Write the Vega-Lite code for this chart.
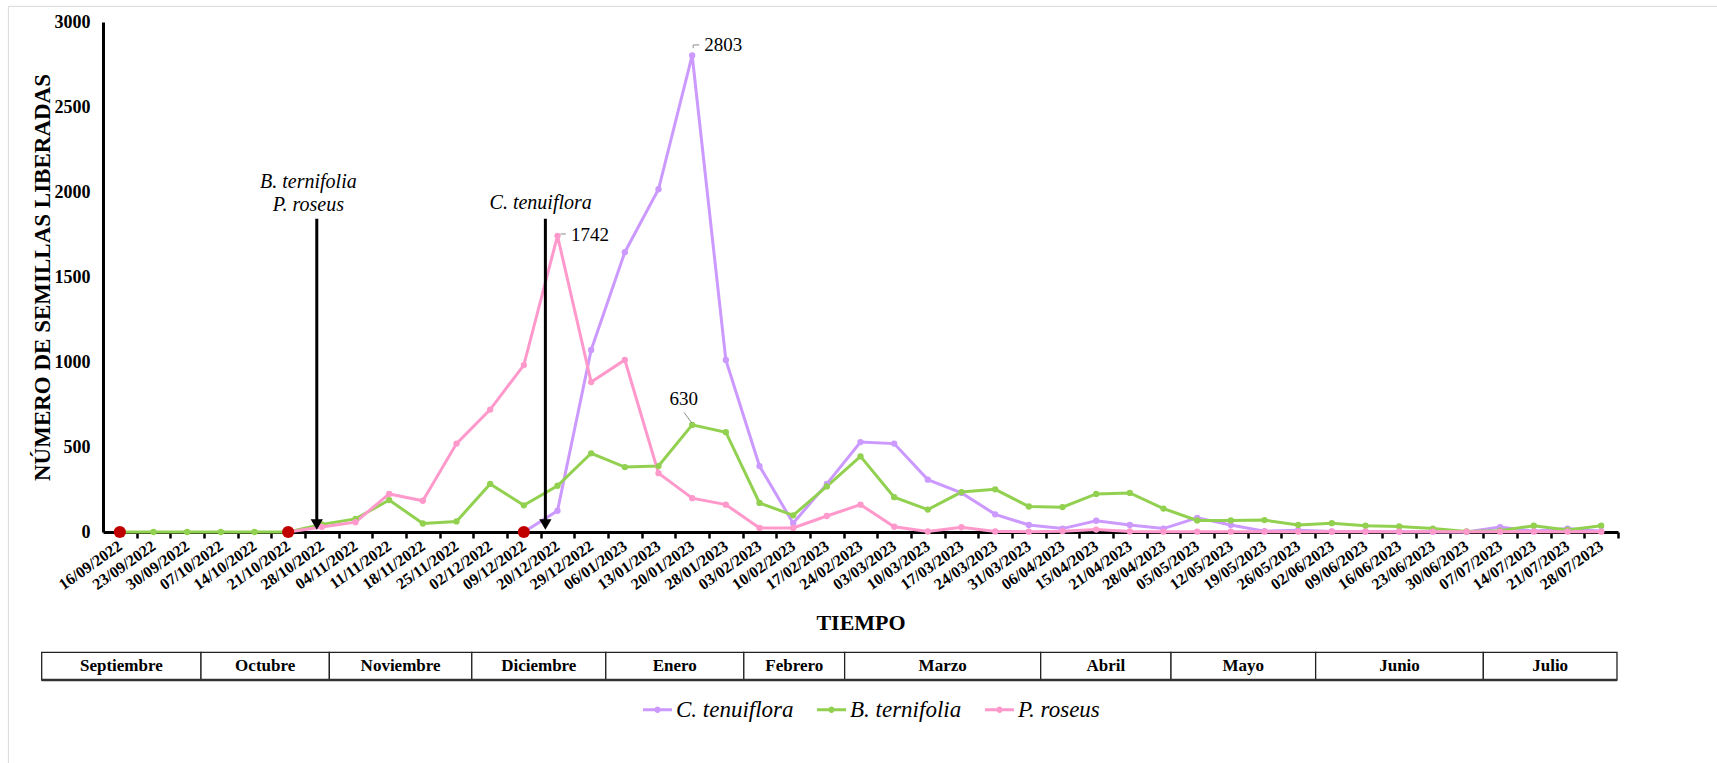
{
  "$schema": "https://vega.github.io/schema/vega-lite/v6.json",
  "width": 1515,
  "height": 510,
  "autosize": {"type": "none"},
  "padding": {"left": 103, "top": 22, "right": 99, "bottom": 231},
  "background": "white",
  "config": {"view": {"stroke": null}, "text": {"font": "Liberation Serif"}, "axis": {"labelFont": "Liberation Serif", "titleFont": "Liberation Serif"}, "legend": {"labelFont": "Liberation Serif"}},
  "datasets": {
    "series": [
      {"fecha": "09/12/2022", "especie": "C. tenuiflora", "semillas": 0},
      {"fecha": "20/12/2022", "especie": "C. tenuiflora", "semillas": 125},
      {"fecha": "29/12/2022", "especie": "C. tenuiflora", "semillas": 1071},
      {"fecha": "06/01/2023", "especie": "C. tenuiflora", "semillas": 1646},
      {"fecha": "13/01/2023", "especie": "C. tenuiflora", "semillas": 2016},
      {"fecha": "20/01/2023", "especie": "C. tenuiflora", "semillas": 2803},
      {"fecha": "28/01/2023", "especie": "C. tenuiflora", "semillas": 1012},
      {"fecha": "03/02/2023", "especie": "C. tenuiflora", "semillas": 388},
      {"fecha": "10/02/2023", "especie": "C. tenuiflora", "semillas": 52},
      {"fecha": "17/02/2023", "especie": "C. tenuiflora", "semillas": 283},
      {"fecha": "24/02/2023", "especie": "C. tenuiflora", "semillas": 529},
      {"fecha": "03/03/2023", "especie": "C. tenuiflora", "semillas": 520},
      {"fecha": "10/03/2023", "especie": "C. tenuiflora", "semillas": 308},
      {"fecha": "17/03/2023", "especie": "C. tenuiflora", "semillas": 230},
      {"fecha": "24/03/2023", "especie": "C. tenuiflora", "semillas": 104},
      {"fecha": "31/03/2023", "especie": "C. tenuiflora", "semillas": 41},
      {"fecha": "06/04/2023", "especie": "C. tenuiflora", "semillas": 20},
      {"fecha": "15/04/2023", "especie": "C. tenuiflora", "semillas": 66},
      {"fecha": "21/04/2023", "especie": "C. tenuiflora", "semillas": 41},
      {"fecha": "28/04/2023", "especie": "C. tenuiflora", "semillas": 20},
      {"fecha": "05/05/2023", "especie": "C. tenuiflora", "semillas": 83},
      {"fecha": "12/05/2023", "especie": "C. tenuiflora", "semillas": 41},
      {"fecha": "19/05/2023", "especie": "C. tenuiflora", "semillas": 5},
      {"fecha": "26/05/2023", "especie": "C. tenuiflora", "semillas": 10},
      {"fecha": "02/06/2023", "especie": "C. tenuiflora", "semillas": 3},
      {"fecha": "09/06/2023", "especie": "C. tenuiflora", "semillas": 3},
      {"fecha": "16/06/2023", "especie": "C. tenuiflora", "semillas": 2},
      {"fecha": "23/06/2023", "especie": "C. tenuiflora", "semillas": 2},
      {"fecha": "30/06/2023", "especie": "C. tenuiflora", "semillas": 0},
      {"fecha": "07/07/2023", "especie": "C. tenuiflora", "semillas": 29},
      {"fecha": "14/07/2023", "especie": "C. tenuiflora", "semillas": 5},
      {"fecha": "21/07/2023", "especie": "C. tenuiflora", "semillas": 20},
      {"fecha": "28/07/2023", "especie": "C. tenuiflora", "semillas": 5},
      {"fecha": "16/09/2022", "especie": "B. ternifolia", "semillas": 0},
      {"fecha": "23/09/2022", "especie": "B. ternifolia", "semillas": 0},
      {"fecha": "30/09/2022", "especie": "B. ternifolia", "semillas": 0},
      {"fecha": "07/10/2022", "especie": "B. ternifolia", "semillas": 0},
      {"fecha": "14/10/2022", "especie": "B. ternifolia", "semillas": 0},
      {"fecha": "21/10/2022", "especie": "B. ternifolia", "semillas": 0},
      {"fecha": "28/10/2022", "especie": "B. ternifolia", "semillas": 45},
      {"fecha": "04/11/2022", "especie": "B. ternifolia", "semillas": 77},
      {"fecha": "11/11/2022", "especie": "B. ternifolia", "semillas": 188},
      {"fecha": "18/11/2022", "especie": "B. ternifolia", "semillas": 50},
      {"fecha": "25/11/2022", "especie": "B. ternifolia", "semillas": 62},
      {"fecha": "02/12/2022", "especie": "B. ternifolia", "semillas": 283},
      {"fecha": "09/12/2022", "especie": "B. ternifolia", "semillas": 157},
      {"fecha": "20/12/2022", "especie": "B. ternifolia", "semillas": 272},
      {"fecha": "29/12/2022", "especie": "B. ternifolia", "semillas": 463},
      {"fecha": "06/01/2023", "especie": "B. ternifolia", "semillas": 382},
      {"fecha": "13/01/2023", "especie": "B. ternifolia", "semillas": 388},
      {"fecha": "20/01/2023", "especie": "B. ternifolia", "semillas": 630},
      {"fecha": "28/01/2023", "especie": "B. ternifolia", "semillas": 587},
      {"fecha": "03/02/2023", "especie": "B. ternifolia", "semillas": 171},
      {"fecha": "10/02/2023", "especie": "B. ternifolia", "semillas": 98},
      {"fecha": "17/02/2023", "especie": "B. ternifolia", "semillas": 268},
      {"fecha": "24/02/2023", "especie": "B. ternifolia", "semillas": 445},
      {"fecha": "03/03/2023", "especie": "B. ternifolia", "semillas": 205},
      {"fecha": "10/03/2023", "especie": "B. ternifolia", "semillas": 132},
      {"fecha": "17/03/2023", "especie": "B. ternifolia", "semillas": 235},
      {"fecha": "24/03/2023", "especie": "B. ternifolia", "semillas": 251},
      {"fecha": "31/03/2023", "especie": "B. ternifolia", "semillas": 150},
      {"fecha": "06/04/2023", "especie": "B. ternifolia", "semillas": 146},
      {"fecha": "15/04/2023", "especie": "B. ternifolia", "semillas": 224},
      {"fecha": "21/04/2023", "especie": "B. ternifolia", "semillas": 230},
      {"fecha": "28/04/2023", "especie": "B. ternifolia", "semillas": 138},
      {"fecha": "05/05/2023", "especie": "B. ternifolia", "semillas": 68},
      {"fecha": "12/05/2023", "especie": "B. ternifolia", "semillas": 68},
      {"fecha": "19/05/2023", "especie": "B. ternifolia", "semillas": 70},
      {"fecha": "26/05/2023", "especie": "B. ternifolia", "semillas": 41},
      {"fecha": "02/06/2023", "especie": "B. ternifolia", "semillas": 52},
      {"fecha": "09/06/2023", "especie": "B. ternifolia", "semillas": 37},
      {"fecha": "16/06/2023", "especie": "B. ternifolia", "semillas": 33},
      {"fecha": "23/06/2023", "especie": "B. ternifolia", "semillas": 20},
      {"fecha": "30/06/2023", "especie": "B. ternifolia", "semillas": 3},
      {"fecha": "07/07/2023", "especie": "B. ternifolia", "semillas": 8},
      {"fecha": "14/07/2023", "especie": "B. ternifolia", "semillas": 37},
      {"fecha": "21/07/2023", "especie": "B. ternifolia", "semillas": 12},
      {"fecha": "28/07/2023", "especie": "B. ternifolia", "semillas": 37},
      {"fecha": "21/10/2022", "especie": "P. roseus", "semillas": 0},
      {"fecha": "28/10/2022", "especie": "P. roseus", "semillas": 30},
      {"fecha": "04/11/2022", "especie": "P. roseus", "semillas": 58},
      {"fecha": "11/11/2022", "especie": "P. roseus", "semillas": 224},
      {"fecha": "18/11/2022", "especie": "P. roseus", "semillas": 184},
      {"fecha": "25/11/2022", "especie": "P. roseus", "semillas": 520},
      {"fecha": "02/12/2022", "especie": "P. roseus", "semillas": 720},
      {"fecha": "09/12/2022", "especie": "P. roseus", "semillas": 982},
      {"fecha": "20/12/2022", "especie": "P. roseus", "semillas": 1742},
      {"fecha": "29/12/2022", "especie": "P. roseus", "semillas": 882},
      {"fecha": "06/01/2023", "especie": "P. roseus", "semillas": 1012},
      {"fecha": "13/01/2023", "especie": "P. roseus", "semillas": 346},
      {"fecha": "20/01/2023", "especie": "P. roseus", "semillas": 199},
      {"fecha": "28/01/2023", "especie": "P. roseus", "semillas": 161},
      {"fecha": "03/02/2023", "especie": "P. roseus", "semillas": 24},
      {"fecha": "10/02/2023", "especie": "P. roseus", "semillas": 24},
      {"fecha": "17/02/2023", "especie": "P. roseus", "semillas": 94},
      {"fecha": "24/02/2023", "especie": "P. roseus", "semillas": 161},
      {"fecha": "03/03/2023", "especie": "P. roseus", "semillas": 31},
      {"fecha": "10/03/2023", "especie": "P. roseus", "semillas": 3},
      {"fecha": "17/03/2023", "especie": "P. roseus", "semillas": 28},
      {"fecha": "24/03/2023", "especie": "P. roseus", "semillas": 3},
      {"fecha": "31/03/2023", "especie": "P. roseus", "semillas": 2},
      {"fecha": "06/04/2023", "especie": "P. roseus", "semillas": 5},
      {"fecha": "15/04/2023", "especie": "P. roseus", "semillas": 14},
      {"fecha": "21/04/2023", "especie": "P. roseus", "semillas": 3},
      {"fecha": "28/04/2023", "especie": "P. roseus", "semillas": 2},
      {"fecha": "05/05/2023", "especie": "P. roseus", "semillas": 2},
      {"fecha": "12/05/2023", "especie": "P. roseus", "semillas": 2},
      {"fecha": "19/05/2023", "especie": "P. roseus", "semillas": 2},
      {"fecha": "26/05/2023", "especie": "P. roseus", "semillas": 2},
      {"fecha": "02/06/2023", "especie": "P. roseus", "semillas": 2},
      {"fecha": "09/06/2023", "especie": "P. roseus", "semillas": 2},
      {"fecha": "16/06/2023", "especie": "P. roseus", "semillas": 2},
      {"fecha": "23/06/2023", "especie": "P. roseus", "semillas": 2},
      {"fecha": "30/06/2023", "especie": "P. roseus", "semillas": 2},
      {"fecha": "07/07/2023", "especie": "P. roseus", "semillas": 2},
      {"fecha": "14/07/2023", "especie": "P. roseus", "semillas": 2},
      {"fecha": "21/07/2023", "especie": "P. roseus", "semillas": 2},
      {"fecha": "28/07/2023", "especie": "P. roseus", "semillas": 2}
    ],
    "monthCells": [
      {"mes": "Septiembre", "xq": -1.821, "xq2": 2.911, "yv": -707.6, "yv2": -870.6},
      {"mes": "Octubre", "xq": 2.911, "xq2": 6.723, "yv": -707.6, "yv2": -870.6},
      {"mes": "Noviembre", "xq": 6.723, "xq2": 10.954, "yv": -707.6, "yv2": -870.6},
      {"mes": "Diciembre", "xq": 10.954, "xq2": 14.934, "yv": -707.6, "yv2": -870.6},
      {"mes": "Enero", "xq": 14.934, "xq2": 19.034, "yv": -707.6, "yv2": -870.6},
      {"mes": "Febrero", "xq": 19.034, "xq2": 22.029, "yv": -707.6, "yv2": -870.6},
      {"mes": "Marzo", "xq": 22.029, "xq2": 27.852, "yv": -707.6, "yv2": -870.6},
      {"mes": "Abril", "xq": 27.852, "xq2": 31.723, "yv": -707.6, "yv2": -870.6},
      {"mes": "Mayo", "xq": 31.723, "xq2": 36.019, "yv": -707.6, "yv2": -870.6},
      {"mes": "Junio", "xq": 36.019, "xq2": 41.0, "yv": -707.6, "yv2": -870.6},
      {"mes": "Julio", "xq": 41.0, "xq2": 44.97, "yv": -707.6, "yv2": -870.6}
    ],
    "monthLabels": [
      {"mes": "Septiembre", "xq": 0.545, "yv": -788},
      {"mes": "Octubre", "xq": 4.817, "yv": -788},
      {"mes": "Noviembre", "xq": 8.839, "yv": -788},
      {"mes": "Diciembre", "xq": 12.944, "yv": -788},
      {"mes": "Enero", "xq": 16.984, "yv": -788},
      {"mes": "Febrero", "xq": 20.532, "yv": -788},
      {"mes": "Marzo", "xq": 24.94, "yv": -788},
      {"mes": "Abril", "xq": 29.788, "yv": -788},
      {"mes": "Mayo", "xq": 33.871, "yv": -788},
      {"mes": "Junio", "xq": 38.51, "yv": -788},
      {"mes": "Julio", "xq": 42.985, "yv": -788}
    ],
    "tableEdges": [
      {"xq": -1.821, "xq2": 44.97, "yv": -870.6}
    ],
    "arrows": [
      {"xq": 6.35, "yv": 1843, "yv2": 60},
      {"xq": 13.14, "yv": 1843, "yv2": 60}
    ],
    "arrowHeads": [
      {"xq": 6.35, "yv": 44},
      {"xq": 13.14, "yv": 44}
    ],
    "arrowTexts": [
      {"xq": 6.1, "yv": 2023, "label": "B. ternifolia"},
      {"xq": 6.1, "yv": 1888, "label": "P. roseus"},
      {"xq": 13.0, "yv": 1900, "label": "C. tenuiflora"}
    ],
    "valueLabels": [
      {"xq": 17.86, "yv": 2865, "label": "2803"},
      {"xq": 13.9, "yv": 1747, "label": "1742"},
      {"xq": 16.83, "yv": 780, "label": "630"}
    ],
    "leaders": [
      {"xq": 17.53, "yv": 2846, "xq2": 17.53, "yv2": 2865},
      {"xq": 17.53, "yv": 2865, "xq2": 17.71, "yv2": 2865},
      {"xq": 13.59, "yv": 1753, "xq2": 13.75, "yv2": 1753},
      {"xq": 17.26, "yv": 703, "xq2": 17.49, "yv2": 641}
    ],
    "startDots": [
      {"xq": 0.5, "yv": 0},
      {"xq": 5.5, "yv": 0},
      {"xq": 12.5, "yv": 0}
    ],
    "frame": [
      {"xq": -2.81, "xq2": 60, "yv": 3092, "yv2": -3000}
    ]
  },
  "layer": [
    {
      "data": {"name": "series"},
      "mark": {"type": "line", "strokeWidth": 3, "point": {"filled": true, "size": 40}},
      "encoding": {
        "x": {
          "field": "fecha", "type": "ordinal", "sort": null,
          "scale": {"type": "point", "padding": 0.5, "domain": ["16/09/2022","23/09/2022","30/09/2022","07/10/2022","14/10/2022","21/10/2022","28/10/2022","04/11/2022","11/11/2022","18/11/2022","25/11/2022","02/12/2022","09/12/2022","20/12/2022","29/12/2022","06/01/2023","13/01/2023","20/01/2023","28/01/2023","03/02/2023","10/02/2023","17/02/2023","24/02/2023","03/03/2023","10/03/2023","17/03/2023","24/03/2023","31/03/2023","06/04/2023","15/04/2023","21/04/2023","28/04/2023","05/05/2023","12/05/2023","19/05/2023","26/05/2023","02/06/2023","09/06/2023","16/06/2023","23/06/2023","30/06/2023","07/07/2023","14/07/2023","21/07/2023","28/07/2023"]},
          "axis": {
            "orient": "bottom", "title": "TIEMPO", "titleFontSize": 22, "titleFontWeight": "bold", "titleColor": "black", "titlePadding": 20,
            "labelAngle": -35, "labelAlign": "right", "labelBaseline": "middle", "labelFontSize": 16, "labelFontWeight": "bold", "labelColor": "black",
            "labelPadding": 12, "labelDx": -22, "labelDy": -8, "labelOverlap": false, "ticks": false, "tickSize": 0, "domainWidth": 3, "domainColor": "black", "grid": false
          }
        },
        "y": {
          "field": "semillas", "type": "quantitative",
          "scale": {"domain": [0, 3000], "nice": false},
          "axis": {
            "title": "NÚMERO DE SEMILLAS LIBERADAS", "titleFontSize": 23, "titleFontWeight": "bold", "titleColor": "black", "titlePadding": 0,
            "values": [0, 500, 1000, 1500, 2000, 2500, 3000], "format": "d", "labelFontSize": 18, "labelFontWeight": "bold", "labelColor": "black",
            "labelPadding": 13, "ticks": false, "tickSize": 0, "domain": true, "domainWidth": 3, "domainColor": "black", "grid": false, "labels": true
          }
        },
        "color": {
          "field": "especie", "type": "nominal",
          "scale": {"domain": ["C. tenuiflora", "B. ternifolia", "P. roseus"], "range": ["#CC99FF", "#92D050", "#FF99CC"]},
          "legend": {
            "orient": "none", "legendX": 540, "legendY": 673, "direction": "horizontal", "title": null,
            "labelFont": "Liberation Serif", "labelFontStyle": "italic", "labelFontSize": 23, "labelColor": "black",
            "symbolType": "M-1,-0.1L1,-0.1L1,0.1L-1,0.1Z M0.22,0A0.22,0.22,0,1,1,-0.22,0A0.22,0.22,0,1,1,0.22,0Z",
            "symbolSize": 841, "symbolStrokeWidth": 0, "columnPadding": 23, "labelOffset": 4, "padding": 0, "labelLimit": 400,
            "encode": {"symbols": {"update": {"fill": {"scale": "color", "field": "value"}, "opacity": {"value": 1}}}}
          }
        }
      }
    },
    {
      "encoding": {
        "x": {
          "field": "xq", "type": "quantitative",
          "scale": {"domain": [0, 45], "nice": false, "zero": false},
          "axis": {
            "orient": "bottom", "values": [1,2,3,4,5,6,7,8,9,10,11,12,13,14,15,16,17,18,19,20,21,22,23,24,25,26,27,28,29,30,31,32,33,34,35,36,37,38,39,40,41,42,43,44,45],
            "labels": false, "domain": false, "ticks": true, "tickSize": 6, "tickWidth": 2.5, "tickColor": "black", "title": null, "grid": false
          }
        },
        "y": {"field": "yv", "type": "quantitative", "scale": {"domain": [0, 3000], "nice": false}}
      },
      "layer": [
        {
          "data": {"name": "frame"},
          "mark": {"type": "rect", "filled": false, "stroke": "#D9D9D9", "strokeWidth": 1},
          "encoding": {"x2": {"field": "xq2"}, "y2": {"field": "yv2"}}
        },
        {
          "data": {"name": "monthCells"},
          "mark": {"type": "rect", "fill": "white", "stroke": "#222222", "strokeWidth": 1.3},
          "encoding": {"x2": {"field": "xq2"}, "y2": {"field": "yv2"}}
        },
        {
          "data": {"name": "tableEdges"},
          "mark": {"type": "rule", "stroke": "#333333", "strokeWidth": 2.5},
          "encoding": {"x2": {"field": "xq2"}}
        },
        {
          "data": {"name": "monthLabels"},
          "mark": {"type": "text", "font": "Liberation Serif", "fontWeight": "bold", "fontSize": 17, "align": "center", "baseline": "middle", "color": "black"},
          "encoding": {"text": {"field": "mes"}}
        },
        {
          "data": {"name": "arrows"},
          "mark": {"type": "rule", "stroke": "black", "strokeWidth": 3},
          "encoding": {"y2": {"field": "yv2"}}
        },
        {
          "data": {"name": "arrowHeads"},
          "mark": {"type": "point", "shape": "triangle-down", "filled": true, "color": "black", "size": 150, "opacity": 1},
          "encoding": {}
        },
        {
          "data": {"name": "arrowTexts"},
          "mark": {"type": "text", "font": "Liberation Serif", "fontStyle": "italic", "fontSize": 20, "align": "center", "baseline": "alphabetic", "color": "black"},
          "encoding": {"text": {"field": "label"}}
        },
        {
          "data": {"name": "leaders"},
          "mark": {"type": "rule", "stroke": "#8C8C8C", "strokeWidth": 1},
          "encoding": {"x2": {"field": "xq2"}, "y2": {"field": "yv2"}}
        },
        {
          "data": {"name": "valueLabels"},
          "mark": {"type": "text", "font": "Liberation Serif", "fontSize": 19, "align": "left", "baseline": "middle", "color": "black"},
          "encoding": {"text": {"field": "label"}}
        },
        {
          "data": {"name": "startDots"},
          "mark": {"type": "circle", "color": "#C00000", "size": 150, "opacity": 1},
          "encoding": {}
        }
      ]
    }
  ],
  "resolve": {"scale": {"x": "independent"}}
}
